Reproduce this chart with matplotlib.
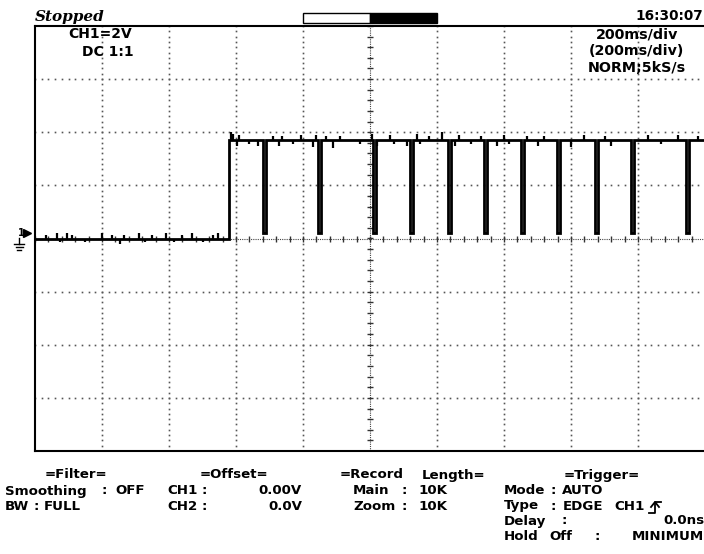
import numpy as np
import matplotlib
matplotlib.use("Agg")
import matplotlib.pyplot as plt
from matplotlib.patches import Rectangle
from matplotlib.lines import Line2D

# waveform (time in ms, 200 ms/div; volts, 2 V/div)
low_v = 0.0
high_v = 3.7
dip_v = 0.2
edge_ms = -421
dip_ms = [-316, -152, 12, 125, 236, 346, 454, 564, 675, 785, 949]
dip_width = 9

# small noise glitches on the trace (time, offset in V)
glitch_low_ms = [-968, -935, -925, -905, -890, -852, -800, -770, -745, -735,
                 -690, -672, -650, -610, -585, -560, -530, -500, -470, -455]
glitch_low_dv = [0.15, 0.2, -0.15, 0.2, 0.15, -0.15, 0.2, 0.15, -0.2, 0.15,
                 0.2, -0.15, 0.15, 0.2, -0.15, 0.15, 0.2, -0.15, 0.15, 0.2]
glitch_high_ms = [-415, -408, -398, -390, -362, -335, -290, -272, -262, -230,
                  -205, -170, -160, -130, -110, -90, -30, 5, 22, 60, 72,
                  110, 140, 150, 175, 215, 255, 265, 300, 330, 380, 400,
                  415, 470, 500, 520, 600, 640, 700, 720, 830, 870, 920, 980]
glitch_high_dv = [0.3, 0.25, -0.2, 0.2, -0.15, -0.2, 0.15, -0.2, 0.15, -0.15,
                  0.2, -0.25, 0.2, 0.15, -0.3, 0.15, -0.15, 0.25, -0.2, 0.2, -0.15,
                  -0.2, 0.25, -0.15, 0.15, 0.3, -0.2, 0.2, -0.15, 0.15, -0.2, 0.2,
                  -0.15, 0.15, -0.2, 0.15, -0.25, 0.2, 0.15, -0.2, 0.2, -0.15, 0.2, 0.15]

W, H = 704, 554


def fx(x):
    return x / W


def fy(y):
    return 1 - y / H


plt.rcParams['font.family'] = ['DejaVu Sans']
plt.rcParams['font.weight'] = 'bold'

fig = plt.figure(figsize=(W / 100, H / 100), dpi=100)
ax = fig.add_axes([fx(35), fy(451), 670 / W, 425 / H])
ax.set_xlim(-1000, 1000)
ax.set_ylim(-8, 8)
ax.set_xticks([])
ax.set_yticks([])
for s in ["left", "bottom", "top"]:
    ax.spines[s].set_linewidth(1.5)
ax.spines["right"].set_visible(False)

# dotted graticule, 10 dots per division
dot_kw = dict(ls="none", marker="s", ms=1.2, color="#555555", mew=0)
tdots = np.arange(-1000, 1001, 20)
vdots = np.arange(-8, 8.01, 0.2)
for t in range(-800, 1000, 200):
    if t != 0:
        ax.plot(np.full(len(vdots), t), vdots, **dot_kw)
for v in [-6, -4, -2, 2, 4, 6]:
    ax.plot(tdots, np.full(len(tdots), v), **dot_kw)

# centre cross with minor ticks
ax.axhline(0, color="#444444", lw=0.8, ls=(0, (1, 1)))
ax.axvline(0, color="#444444", lw=0.8, ls=(0, (1, 1)))
ax.plot(np.arange(-1000, 1001, 40), np.zeros(51), ls="none", marker="|",
        ms=5, mew=1.0, color="#333333")
ax.plot(np.zeros(41), np.arange(-8, 8.01, 0.4), ls="none", marker="_",
        ms=5, mew=1.0, color="#333333")

# build the trace
t_pts = [-1000, edge_ms, edge_ms]
v_pts = [low_v, low_v, high_v]
for d in dip_ms:
    t_pts += [d - dip_width / 2, d - dip_width / 2, d + dip_width / 2, d + dip_width / 2]
    v_pts += [high_v, dip_v, dip_v, high_v]
t_pts.append(1000)
v_pts.append(high_v)
ax.plot(t_pts, v_pts, color="black", lw=2.0, solid_joinstyle="miter")

ax.vlines(glitch_low_ms, low_v, [low_v + d for d in glitch_low_dv], color="black", lw=1.6)
ax.vlines(glitch_high_ms, high_v, [high_v + d for d in glitch_high_dv], color="black", lw=1.6)


def txt(x, y, s, ha="left", size=9.6, **kw):
    fig.text(fx(x), fy(y), s, fontsize=size, va="center", ha=ha, **kw)


# status line
txt(35, 17, "Stopped", family="DejaVu Serif", style="italic", size=11)
txt(703, 16, "16:30:07", ha="right", size=9.8)
fig.patches.append(Rectangle((fx(303), fy(23)), 67 / W, 10 / H, transform=fig.transFigure,
                             facecolor="white", edgecolor="black", lw=1.0))
fig.patches.append(Rectangle((fx(370), fy(23)), 67 / W, 10 / H, transform=fig.transFigure,
                             facecolor="black", edgecolor="black", lw=1.0))

# channel / timebase readouts
txt(68, 34, "CH1=2V", size=10)
txt(82, 52, "DC 1:1", size=10)
txt(637, 34, "200ms/div", ha="center", size=10.3)
txt(636, 51, "(200ms/div)", ha="center", size=10.3)
txt(637, 68, "NORM;5kS/s", ha="center", size=10.3)

# ground / level marker
txt(21, 233, "1", ha="center", size=7)
fig.lines.append(Line2D([fx(27)], [fy(233)], marker=">", ms=6, color="black",
                        transform=fig.transFigure))
fig.lines.append(Line2D([fx(19), fx(19)], [fy(238), fy(244)], color="black", lw=1,
                        transform=fig.transFigure))
for yy, hw in [(244, 5), (247, 3.5), (250, 2)]:
    fig.lines.append(Line2D([fx(19 - hw), fx(19 + hw)], [fy(yy), fy(yy)], color="black",
                            lw=1, transform=fig.transFigure))

# bottom settings panel
r0, r1, r2, r3, r4 = 475, 491, 506, 521, 536

txt(76, r0, "=Filter=", ha="center")
txt(5, r1, "Smoothing")
txt(104, r1, ":", ha="center")
txt(115, r1, "OFF")
txt(5, r2, "BW")
txt(36, r2, ":", ha="center")
txt(44, r2, "FULL")

txt(234, r0, "=Offset=", ha="center")
txt(167, r1, "CH1")
txt(204, r1, ":", ha="center")
txt(302, r1, "0.00V", ha="right")
txt(167, r2, "CH2")
txt(204, r2, ":", ha="center")
txt(302, r2, "0.0V", ha="right")

txt(340, r0, "=Record")
txt(422, r0, "Length=")
txt(353, r1, "Main")
txt(404, r1, ":", ha="center")
txt(447, r1, "10K", ha="right")
txt(353, r2, "Zoom")
txt(404, r2, ":", ha="center")
txt(447, r2, "10K", ha="right")

txt(602, r0, "=Trigger=", ha="center")
txt(504, r1, "Mode")
txt(553, r1, ":", ha="center")
txt(562, r1, "AUTO")
txt(504, r2, "Type")
txt(553, r2, ":", ha="center")
txt(563, r2, "EDGE")
txt(614, r2, "CH1")
txt(504, r3, "Delay")
txt(564, r3, ":", ha="center")
txt(704, r3, "0.0ns", ha="right")
txt(504, r4, "Hold")
txt(549, r4, "Off")
txt(597, r4, ":", ha="center")
txt(704, r4, "MINIMUM", ha="right")

# rising-edge trigger symbol
for xs, ys in [([649, 655, 655, 661], [513, 513, 502, 502]), ([651, 655, 659], [507, 502, 507])]:
    fig.lines.append(Line2D([fx(x) for x in xs], [fy(y) for y in ys], color="black", lw=1.3,
                            transform=fig.transFigure))

fig.savefig("out.png", dpi=100, facecolor="white")
